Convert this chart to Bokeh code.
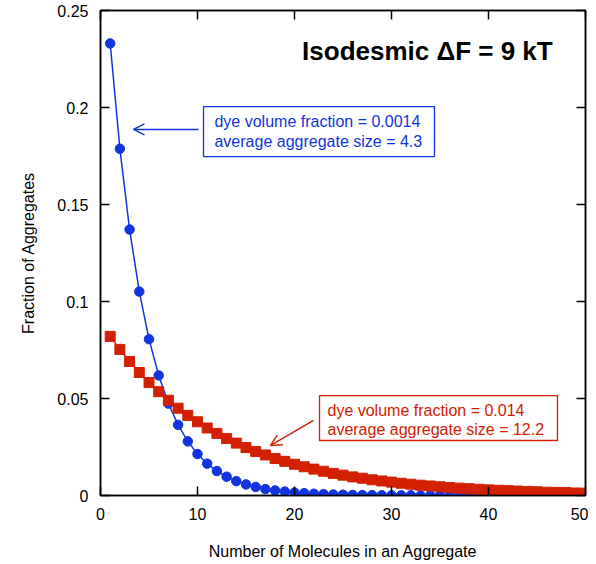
from bokeh.plotting import figure
from bokeh.models import (ColumnDataSource, Range1d, LinearAxis, FixedTicker, Label,
                          BoxAnnotation, Arrow, OpenHead, CustomJSTickFormatter)
from bokeh.embed import file_html
from bokeh.resources import INLINE

# ---- data ----
n_values = list(range(1, 51))
low_fraction = [0.233, 0.1787, 0.1371, 0.1051, 0.0806, 0.0619, 0.0474, 0.0364, 0.0279, 0.0214,
                0.0164, 0.0126, 0.0097, 0.0074, 0.0057, 0.0044, 0.0033, 0.0026, 0.0020, 0.0015,
                0.0012, 0.0009, 0.0007, 0.0005, 0.0004, 0.0003, 0.0002, 0.0002, 0.0001, 0.0001,
                0.0001, 0.0001, 0.0, 0.0, 0.0, 0.0, 0.0, 0.0, 0.0, 0.0,
                0.0, 0.0, 0.0, 0.0, 0.0, 0.0, 0.0, 0.0, 0.0, 0.0]
high_fraction = [0.082, 0.0753, 0.0691, 0.0634, 0.0582, 0.0535, 0.0491, 0.0450, 0.0413, 0.0380,
                 0.0348, 0.0320, 0.0294, 0.0270, 0.0247, 0.0227, 0.0209, 0.0191, 0.0176, 0.0161,
                 0.0148, 0.0136, 0.0125, 0.0114, 0.0105, 0.0096, 0.0089, 0.0081, 0.0075, 0.0069,
                 0.0063, 0.0058, 0.0053, 0.0049, 0.0045, 0.0041, 0.0038, 0.0035, 0.0032, 0.0029,
                 0.0027, 0.0025, 0.0023, 0.0021, 0.0019, 0.0017, 0.0016, 0.0015, 0.0013, 0.0012]
x_ticks = [0, 10, 20, 30, 40, 50]
y_ticks = [0, 0.05, 0.1, 0.15, 0.2, 0.25]
y_tick_labels = ["0", "0.05", "0.1", "0.15", "0.2", "0.25"]
title_text = "Isodesmic \u0394F = 9 kT"
low_text = ["dye volume fraction = 0.0014", "average aggregate size = 4.3"]
high_text = ["dye volume fraction = 0.014", "average aggregate size = 12.2"]

BLUE = "#1234e0"
RED = "#d22000"
FONT = "Liberation Sans"

src = ColumnDataSource(dict(n=n_values, low=low_fraction, high=high_fraction))

p = figure(frame_width=485, frame_height=485, output_backend="svg", toolbar_location=None,
           x_range=Range1d(0, 50), y_range=Range1d(0, 0.25),
           min_border_left=100, min_border_right=3, min_border_top=10, min_border_bottom=50)
p.grid.visible = False
p.outline_line_color = "black"
p.outline_line_width = 1.5
p.background_fill_color = "white"
p.border_fill_color = "white"

def style_axis(ax):
    ax.axis_line_color = "black"
    ax.axis_line_width = 1.5
    ax.major_tick_in = 9
    ax.major_tick_out = 0
    ax.major_tick_line_width = 1.5
    ax.minor_tick_line_color = None
    ax.major_label_text_font = FONT
    ax.major_label_text_font_size = "16px"
    ax.major_label_text_color = "black"
    ax.axis_label_text_font = FONT
    ax.axis_label_text_font_size = "16px"
    ax.axis_label_text_font_style = "normal"
    ax.axis_label_text_color = "black"

xa = p.xaxis[0]
ya = p.yaxis[0]
style_axis(xa)
style_axis(ya)
xa.ticker = FixedTicker(ticks=x_ticks)
ya.ticker = FixedTicker(ticks=y_ticks)
ya.major_label_overrides = {t: s for t, s in zip(y_ticks, y_tick_labels)}
xa.axis_label = "Number of Molecules in an Aggregate"
ya.axis_label = "Fraction of Aggregates"
xa.major_label_standoff = 12
xa.axis_label_standoff = 20
ya.major_label_standoff = 12
ya.axis_label_standoff = 17

blank = CustomJSTickFormatter(code="return ''")
top_ax = LinearAxis(ticker=FixedTicker(ticks=x_ticks), formatter=blank)
right_ax = LinearAxis(ticker=FixedTicker(ticks=y_ticks), formatter=blank)
for ax in (top_ax, right_ax):
    style_axis(ax)
    ax.major_label_standoff = 0
    ax.major_label_text_font_size = "1px"
p.add_layout(top_ax, "above")
p.add_layout(right_ax, "right")

# series
p.line("n", "low", source=src, line_color=BLUE, line_width=1.5)
p.scatter("n", "low", source=src, marker="circle", size=9.5, fill_color=BLUE, line_color=BLUE)
p.line("n", "high", source=src, line_color=RED, line_width=1.5)
p.scatter("n", "high", source=src, marker="square", size=10, fill_color=RED, line_color=RED)

# title
p.add_layout(Label(x=33.7, y=0.2289, text=title_text, text_font=FONT, text_font_size="26px",
                   text_font_style="bold", text_color="black", text_align="center",
                   text_baseline="middle"))

# blue annotation
p.add_layout(BoxAnnotation(left=10.62, right=34.43, top=0.2005, bottom=0.1747,
                           fill_color="white", fill_alpha=1, line_color=BLUE, line_alpha=1,
                           line_width=1.3))
for txt, yy in zip(low_text, [0.1928, 0.1825]):
    p.add_layout(Label(x=11.75, y=yy, text=txt, text_font=FONT, text_font_size="16px",
                       text_color=BLUE, text_baseline="middle"))
p.add_layout(Arrow(end=OpenHead(size=11, line_color=BLUE, line_width=1.5),
                   x_start=10.1, y_start=0.1887, x_end=3.4, y_end=0.1887,
                   line_color=BLUE, line_width=1.5))

# red annotation
p.add_layout(BoxAnnotation(left=22.58, right=47.11, top=0.0515, bottom=0.02835,
                           fill_color="white", fill_alpha=1, line_color=RED, line_alpha=1,
                           line_width=1.3))
for txt, yy in zip(high_text, [0.0438, 0.0340]):
    p.add_layout(Label(x=23.4, y=yy, text=txt, text_font=FONT, text_font_size="16px",
                       text_color=RED, text_baseline="middle"))
p.add_layout(Arrow(end=OpenHead(size=11, line_color=RED, line_width=1.5),
                   x_start=21.96, y_start=0.0387, x_end=17.53, y_end=0.0258,
                   line_color=RED, line_width=1.5))

open("out.html", "w").write(file_html(p, INLINE))
